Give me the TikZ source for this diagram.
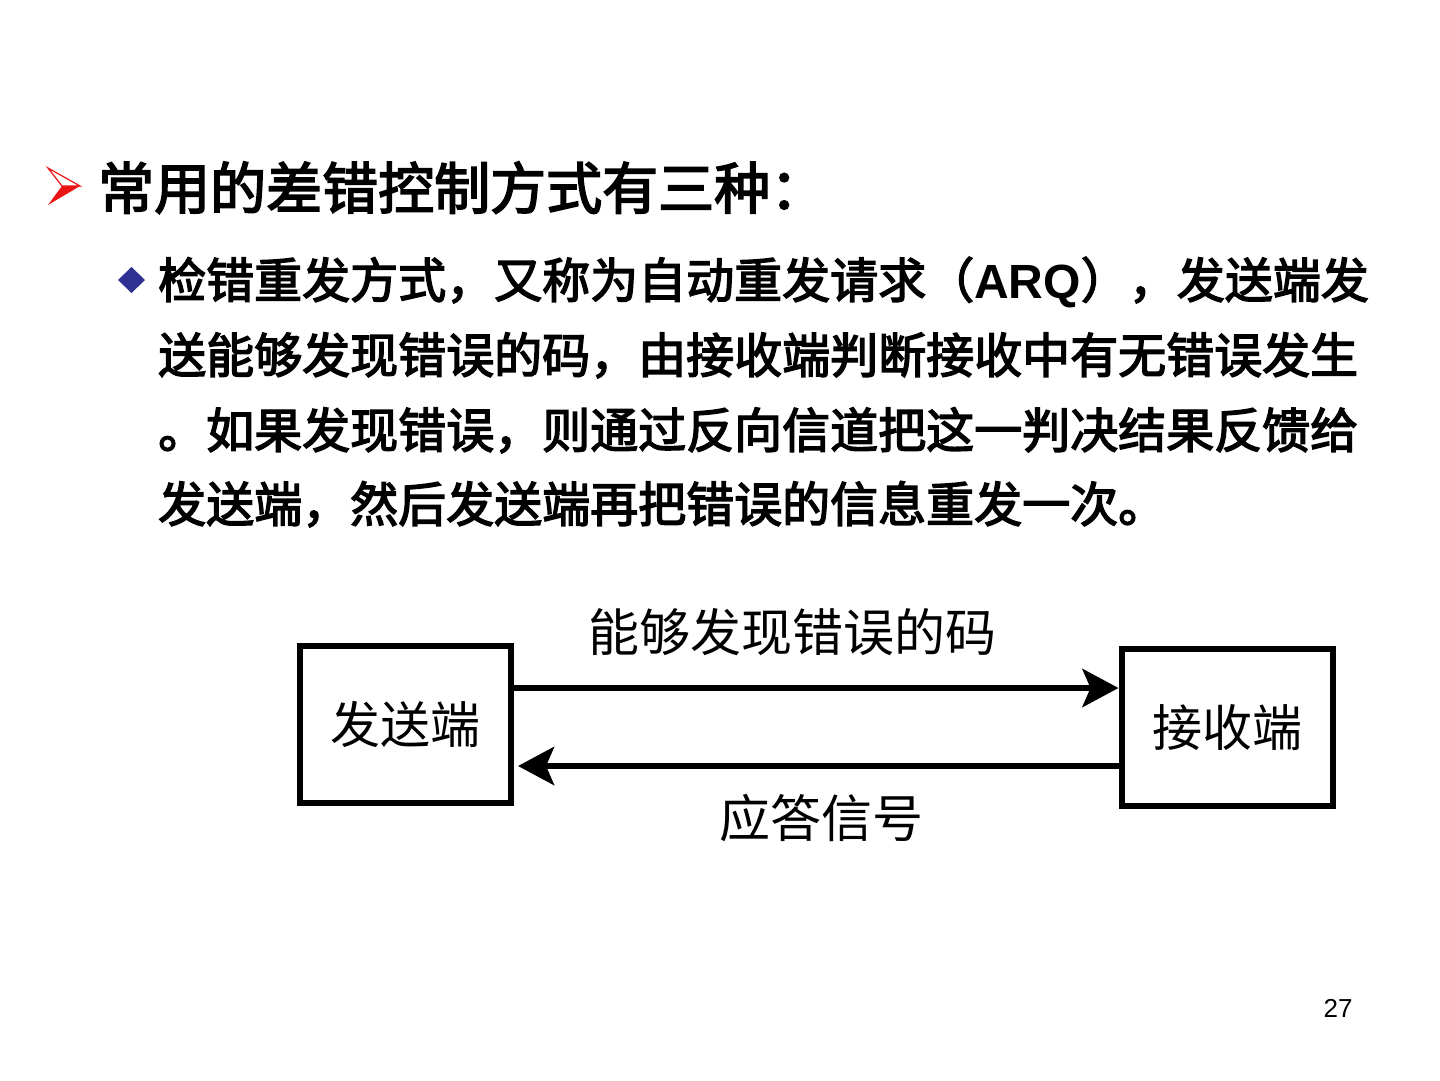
\documentclass[tikz,border=0pt]{standalone}
\usepackage{fontspec}
\setmainfont{Liberation Sans}
\newfontfamily\cjk{Noto Sans CJK SC}
\newfontfamily\cjkheavy[FakeBold=3]{Noto Sans CJK SC}
\usepackage{tikz}
\usetikzlibrary{positioning}
\usetikzlibrary{arrows.meta}
\definecolor{bulletblue}{RGB}{46,49,146}
\definecolor{bulletred}{RGB}{235,20,20}

% stretchable gaps between CJK characters, for justified lines
\XeTeXinterchartokenstate=1
\newcommand{\cjkgap}{\hskip 0pt plus 1pt\relax}
\XeTeXinterchartoks 1 1 = {\cjkgap}
\XeTeXinterchartoks 1 2 = {\cjkgap}
\XeTeXinterchartoks 1 3 = {\cjkgap}
\XeTeXinterchartoks 2 1 = {\cjkgap}
\XeTeXinterchartoks 3 1 = {\cjkgap}
\XeTeXinterchartoks 3 2 = {\cjkgap}
\XeTeXinterchartoks 3 3 = {\cjkgap}
\newcommand{\fullline}[2]{\makebox[#1][s]{#2}}

\begin{document}
\begin{tikzpicture}[x=1pt,y=-1pt,
  title text/.style={anchor=base west,inner sep=0pt,font=\cjkheavy\fontsize{56}{56}\selectfont},
  body text/.style={anchor=base west,inner sep=0pt,font=\cjkheavy\fontsize{48}{48}\selectfont},
  end box/.style={draw,line width=6pt,minimum width=211pt,minimum height=157pt,inner sep=0pt,
    font=\cjk\fontsize{50}{50}\selectfont},
  label text/.style={inner sep=0pt,font=\cjk\fontsize{51}{51}\selectfont},
  link/.style={line width=6.5pt,-{Stealth[length=36pt,width=38pt,inset=8pt]}}]
\useasboundingbox (0,0) rectangle (1440,1080);
\fill[white] (0,0) rectangle (1440,1080);

% bullets
\draw[bulletred,line width=1.2pt,fill=white,line join=miter] (48,168) -- (80,186) -- (62,186) -- cycle;
\fill[bulletred] (62,186) -- (80,186) -- (48,205) -- cycle;
\fill[bulletblue] (118,280) -- (131.5,267) -- (145,280) -- (131.5,293) -- cycle;

% text
\node[title text] (title) at (98,209) {常用的差错控制方式有三种：};
\node[body text] (lineA) at (158,298) {\fullline{1217pt}{检错重发方式，又称为自动重发请求（{\rmfamily\bfseries ARQ}），发送端发}};
\node[body text] (lineB) at (158,373) {\fullline{1206pt}{送能够发现错误的码，由接收端判断接收中有无错误发生}};
\node[body text] (lineC) at (158,448) {\fullline{1207pt}{。如果发现错误，则通过反向信道把这一判决结果反馈给}};
\node[body text] (lineD) at (158,522) {发送端，然后发送端再把错误的信息重发一次。};

% diagram
\node[end box] (send) at (405.5,724.5) {发送端};
\node[end box] (recv) at (1227,727.5) {接收端};
\coordinate (topy) at (0,688);
\coordinate (boty) at (0,766);
\draw[link] (send.east |- topy) -- (recv.west |- topy);
\draw[link,shorten >=4pt] (recv.west |- boty) -- (send.east |- boty);
\node[label text] (fwd) at (792,632) {能够发现错误的码};
\node[label text] (ack) at (821,818) {应答信号};

\node[inner sep=0pt,font=\fontsize{26}{26}\selectfont] (page) at (1338,1008) {27};
\end{tikzpicture}
\end{document}
